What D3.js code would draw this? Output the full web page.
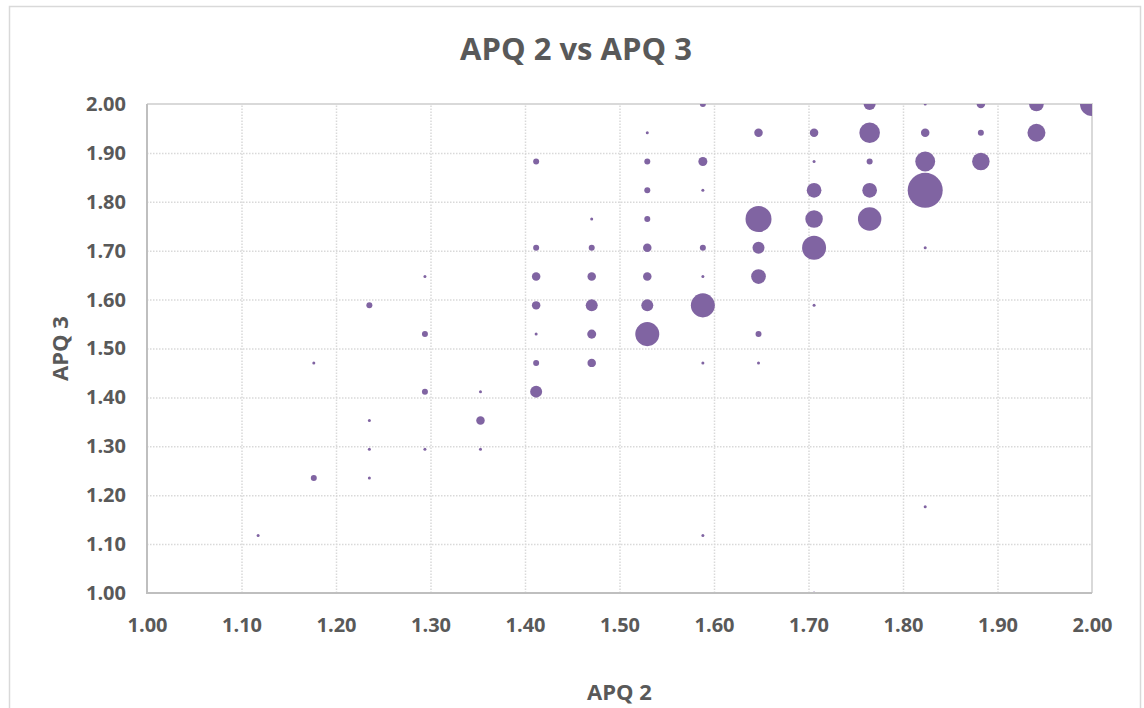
<!DOCTYPE html>
<html>
<head>
<meta charset="utf-8">
<script src="https://cdn.jsdelivr.net/npm/d3@7"></script>
<style>
  body { margin: 0; background: #fff; }
  svg text { font-family: "Open Sans", sans-serif; font-weight: bold; fill: #595959; }
</style>
</head>
<body>
<svg id="chart" width="1144" height="708"></svg>
<script>
// APQ 2 (x), APQ 3 (y) and how many answers sit on each pair (bubble size)
const apq2 = [
  1.1176, 1.1765, 1.1765, 1.2353, 1.2353, 1.2353, 1.2353, 1.2941, 1.2941, 1.2941,
  1.2941, 1.3529, 1.3529, 1.3529, 1.4118, 1.4118, 1.4118, 1.4118, 1.4118, 1.4118,
  1.4118, 1.4706, 1.4706, 1.4706, 1.4706, 1.4706, 1.4706, 1.5294, 1.5294, 1.5294,
  1.5294, 1.5294, 1.5294, 1.5294, 1.5294, 1.5882, 1.5882, 1.5882, 1.5882, 1.5882,
  1.5882, 1.5882, 1.5882, 1.6471, 1.6471, 1.6471, 1.6471, 1.6471, 1.6471, 1.7059,
  1.7059, 1.7059, 1.7059, 1.7059, 1.7059, 1.7059, 1.7647, 1.7647, 1.7647, 1.7647,
  1.7647, 1.8235, 1.8235, 1.8235, 1.8235, 1.8235, 1.8235, 1.8824, 1.8824, 1.8824,
  1.9412, 1.9412, 2.0000
];
const apq3 = [
  1.1176, 1.4706, 1.2353, 1.5882, 1.3529, 1.2941, 1.2353, 1.6471, 1.5294, 1.4118,
  1.2941, 1.4118, 1.3529, 1.2941, 1.8824, 1.7059, 1.6471, 1.5882, 1.5294, 1.4706,
  1.4118, 1.7647, 1.7059, 1.6471, 1.5882, 1.5294, 1.4706, 1.9412, 1.8824, 1.8235,
  1.7647, 1.7059, 1.6471, 1.5882, 1.5294, 2.0000, 1.8824, 1.8235, 1.7059, 1.6471,
  1.5882, 1.4706, 1.1176, 1.9412, 1.7647, 1.7059, 1.6471, 1.5294, 1.4706, 1.9412,
  1.8824, 1.8235, 1.7647, 1.7059, 1.5882, 1.0000, 2.0000, 1.9412, 1.8824, 1.8235,
  1.7647, 2.0000, 1.9412, 1.8824, 1.8235, 1.7059, 1.1765, 2.0000, 1.9412, 1.8824,
  2.0000, 1.9412, 2.0000
];
const counts = [
  1, 1, 4, 4, 1, 1, 1, 1, 4, 4,
  1, 1, 8, 1, 4, 4, 8, 8, 1, 4,
  16, 1, 4, 8, 16, 9, 8, 1, 4, 4,
  4, 8, 8, 16, 64, 4, 9, 1, 4, 1,
  64, 1, 1, 8, 75, 16, 24, 4, 1, 8,
  1, 24, 34, 64, 1, 1, 16, 47, 4, 24,
  61, 1, 8, 44, 136, 1, 1, 8, 4, 34,
  24, 36, 64
];

const xTicks = [1.00, 1.10, 1.20, 1.30, 1.40, 1.50, 1.60, 1.70, 1.80, 1.90, 2.00];
const yTicks = [1.00, 1.10, 1.20, 1.30, 1.40, 1.50, 1.60, 1.70, 1.80, 1.90, 2.00];

const chartTitle = "APQ 2 vs APQ 3";
const xTitle = "APQ 2";
const yTitle = "APQ 3";

const svg = d3.select("svg#chart");
const W = 1144, H = 708;
const m = { left: 147, right: 1092, top: 104, bottom: 593 };

// outer chart frame
svg.append("rect")
  .attr("x", 9.5).attr("y", 6.5)
  .attr("width", 1131).attr("height", 720)
  .attr("fill", "#fff")
  .attr("stroke", "#d9d9d9").attr("stroke-width", 1.5);

const x = d3.scaleLinear().domain([1, 2]).range([m.left, m.right]);
const y = d3.scaleLinear().domain([1, 2]).range([m.bottom, m.top]);
const r = d3.scaleSqrt().domain([0, d3.max(counts)]).range([0, 17.5]);

// dotted grid
svg.append("g")
  .attr("transform", `translate(0,${m.bottom})`)
  .call(d3.axisBottom(x).tickValues(xTicks.slice(1, -1)).tickSize(-(m.bottom - m.top)).tickFormat(""))
  .call(g => g.select(".domain").remove())
  .selectAll("line")
  .attr("stroke", "#d9d9d9").attr("stroke-width", 1.5).attr("stroke-dasharray", "1.5,1.5");

svg.append("g")
  .attr("transform", `translate(${m.left},0)`)
  .call(d3.axisLeft(y).tickValues(yTicks.slice(1, -1)).tickSize(-(m.right - m.left)).tickFormat(""))
  .call(g => g.select(".domain").remove())
  .selectAll("line")
  .attr("stroke", "#d9d9d9").attr("stroke-width", 1.5).attr("stroke-dasharray", "1.5,1.5");

// plot border: top and right light, axes darker
svg.append("path")
  .attr("d", `M${m.left},${m.top}H${m.right}V${m.bottom}`)
  .attr("fill", "none").attr("stroke", "#d9d9d9").attr("stroke-width", 2);

// bubbles, clipped to the plot area like Excel does
svg.append("clipPath").attr("id", "plotclip")
  .append("rect")
  .attr("x", m.left).attr("y", m.top)
  .attr("width", m.right - m.left).attr("height", m.bottom - m.top);

const pts = counts.map((c, i) => ({ x: apq2[i], y: apq3[i], n: c }));

svg.append("g")
  .attr("clip-path", "url(#plotclip)")
  .selectAll("circle")
  .data(pts)
  .enter().append("circle")
  .attr("cx", d => x(d.x))
  .attr("cy", d => y(d.y))
  .attr("r", d => r(d.n))
  .attr("fill", "#8064a2");

svg.append("path")
  .attr("d", `M${m.left},${m.top}V${m.bottom}H${m.right}`)
  .attr("fill", "none").attr("stroke", "#bfbfbf").attr("stroke-width", 2);

// tick labels
const xAxis = svg.append("g")
  .attr("transform", `translate(0,${m.bottom})`)
  .call(d3.axisBottom(x).tickValues(xTicks).tickSize(0).tickPadding(25).tickFormat(d3.format(".2f")));
xAxis.select(".domain").remove();
xAxis.selectAll("text").attr("font-size", 20).attr("fill", "#595959")
  .style("font-family", null);

const yAxis = svg.append("g")
  .attr("transform", `translate(${m.left},0)`)
  .call(d3.axisLeft(y).tickValues(yTicks).tickSize(0).tickPadding(21).tickFormat(d3.format(".2f")));
yAxis.select(".domain").remove();
yAxis.selectAll("text").attr("font-size", 20).attr("fill", "#595959");

svg.selectAll(".tick text").attr("font-family", null);

// titles
svg.append("text")
  .attr("x", 576).attr("y", 60)
  .attr("text-anchor", "middle")
  .attr("font-size", 31)
  .text(chartTitle);

svg.append("text")
  .attr("x", (m.left + m.right) / 2).attr("y", 700)
  .attr("text-anchor", "middle")
  .attr("font-size", 22)
  .text(xTitle);

svg.append("text")
  .attr("transform", `translate(68,${(m.top + m.bottom) / 2}) rotate(-90)`)
  .attr("text-anchor", "middle")
  .attr("font-size", 22)
  .text(yTitle);
</script>
</body>
</html>
